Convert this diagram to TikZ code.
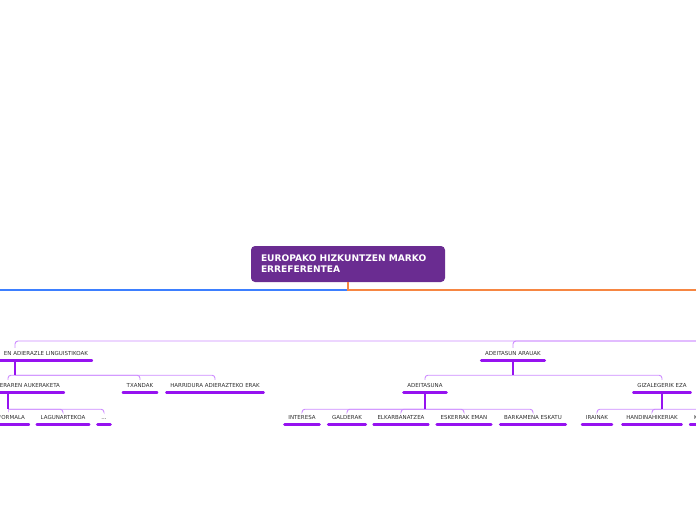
\documentclass[tikz,border=0pt]{standalone}
\usepackage{fontspec}
\setmainfont{DejaVu Sans}

\definecolor{rootfill}{RGB}{106,44,145}
\definecolor{topictext}{RGB}{45,45,45}
\definecolor{ulinecol}{RGB}{150,18,240}
\definecolor{branchcol}{RGB}{205,140,255}
\definecolor{westblue}{RGB}{61,127,255}
\definecolor{eastorange}{RGB}{246,134,66}

\tikzset{
  rootbox/.style={fill=rootfill, rounded corners=4pt, text=white,
    font=\fontsize{9.1}{11}\selectfont\bfseries, minimum width=194pt,
    minimum height=36pt, text width=174pt, align=left, inner xsep=10pt},
  topic/.style={font=\fontsize{5.5}{6}\selectfont, text=topictext,
    text height=4pt, text depth=0pt, inner xsep=5pt, inner ysep=5pt},
  uline/.style={draw=ulinecol, line width=2.6pt, line cap=round},
  branch/.style={draw=branchcol, line width=0.9pt, rounded corners=3pt},
  stem/.style={draw=ulinecol, line width=1.4pt},
}

\begin{document}
\begin{tikzpicture}[x=1pt, y=-1pt]
  \useasboundingbox (0,0) rectangle (696,520);
  \clip (0,0) rectangle (696,520);

  % central topic
  \node[rootbox] (root) at (348,264) {EUROPAKO HIZKUNTZEN MARKO\\ERREFERENTEA};
  \coordinate (westend) at (0,290);
  \coordinate (eastend) at (696,290);
  \coordinate (hub) at (760,341);
  \draw[westblue, line width=1.2pt] (root.south |- westend) -- (westend);
  \draw[eastorange, line width=1.2pt] (root.south) |- (eastend);

  % first level
  \node[topic, text width=146pt, align=right] (lingu) at (15,353) {EN ADIERAZLE LINGUISTIKOAK};
  \node[topic] (arauak) at (513,353) {ADEITASUN ARAUAK};

  % second level
  \node[topic, text width=104pt, align=right] (aukera) at (8,385) {ERAREN AUKERAKETA};
  \node[topic] (txandak) at (140,385) {TXANDAK};
  \node[topic] (harridura) at (215,385) {HARRIDURA ADIERAZTEKO ERAK};
  \node[topic] (adeitasuna) at (425,385) {ADEITASUNA};
  \node[topic] (gizalege) at (662,385) {GIZALEGERIK EZA};

  % third level
  \node[topic, text width=34pt, align=right] (formala) at (8,417) {FORMALA};
  \node[topic] (lagun) at (63,417) {LAGUNARTEKOA};
  \node[topic] (besteak) at (104,417) {...};
  \node[topic] (interesa) at (302,417) {INTERESA};
  \node[topic] (galderak) at (347,417) {GALDERAK};
  \node[topic] (elkar) at (401,417) {ELKARBANATZEA};
  \node[topic] (eskerrak) at (464,417) {ESKERRAK EMAN};
  \node[topic] (barkamena) at (533,417) {BARKAMENA ESKATU};
  \node[topic] (irainak) at (597,417) {IRAINAK};
  \node[topic] (handi) at (652,417) {HANDINAHIKERIAK};
  \node[topic, text width=72pt, align=left] (kmoz) at (730,417) {K};

  % connectors
  \foreach \c in {lingu, arauak}
    \draw[branch] (hub) -| ([yshift=-2pt]\c.north);
  \path (lingu.south) ++(0,15) coordinate (linguj);
  \path (arauak.south) ++(0,15) coordinate (arauakj);
  \path (aukera.south) ++(0,17) coordinate (aukeraj);
  \path (adeitasuna.south) ++(0,17) coordinate (adeitj);
  \path (gizalege.south) ++(0,17) coordinate (gizalj);
  \foreach \c in {aukera, txandak, harridura}
    \draw[branch] (linguj) -| ([yshift=-2pt]\c.north);
  \foreach \c in {adeitasuna, gizalege}
    \draw[branch] (arauakj) -| ([yshift=-2pt]\c.north);
  \foreach \c in {formala, lagun, besteak}
    \draw[branch] (aukeraj) -| ([yshift=-2pt]\c.north);
  \foreach \c in {interesa, galderak, elkar, eskerrak, barkamena}
    \draw[branch] (adeitj) -| ([yshift=-2pt]\c.north);
  \foreach \c in {irainak, handi, kmoz}
    \draw[branch] (gizalj) -| ([yshift=-2pt]\c.north);
  \draw[stem] (lingu.south) -- (linguj);
  \draw[stem] (arauak.south) -- (arauakj);
  \draw[stem] (aukera.south) -- (aukeraj);
  \draw[stem] (adeitasuna.south) -- (adeitj);
  \draw[stem] (gizalege.south) -- (gizalj);

  % underlines
  \foreach \n in {lingu, arauak, aukera, txandak, harridura, adeitasuna,
      gizalege, formala, lagun, besteak, interesa, galderak, elkar,
      eskerrak, barkamena, irainak, handi, kmoz}
    \draw[uline] ([xshift=1.3pt]\n.south west) -- ([xshift=-1.3pt]\n.south east);
\end{tikzpicture}
\end{document}
